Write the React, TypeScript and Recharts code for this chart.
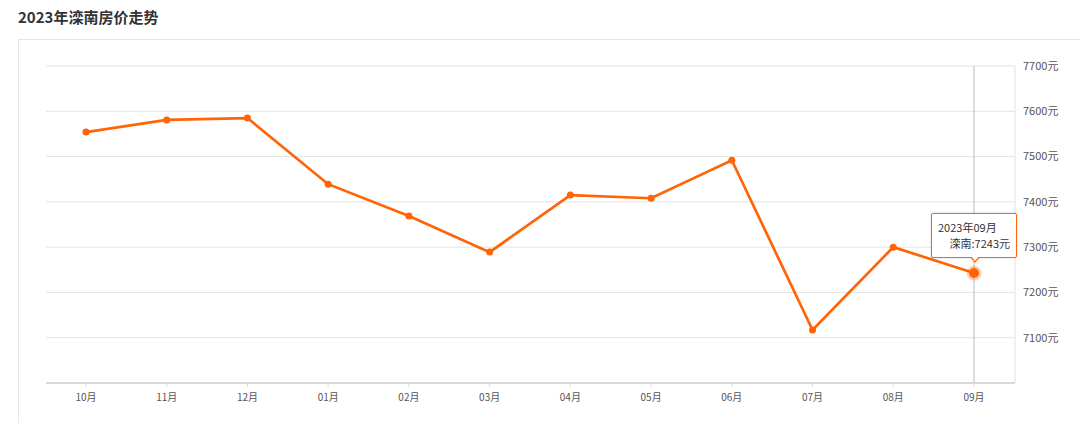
import React from 'react';
import { LineChart, Line, XAxis, YAxis, CartesianGrid, Tooltip } from 'recharts';

const months = ['10月', '11月', '12月', '01月', '02月', '03月', '04月', '05月', '06月', '07月', '08月', '09月'];
const fullLabels = ['2022年10月', '2022年11月', '2022年12月', '2023年01月', '2023年02月', '2023年03月', '2023年04月', '2023年05月', '2023年06月', '2023年07月', '2023年08月', '2023年09月'];
const prices = [7554, 7581, 7585, 7439, 7369, 7289, 7415, 7408, 7492, 7117, 7300, 7243];
const yTicks = [7000, 7100, 7200, 7300, 7400, 7500, 7600, 7700];

const data = months.map((m, i) => ({ month: m, full: fullLabels[i], price: prices[i] }));

const ORANGE = '#ff6408';
const FONT = '"Noto Sans CJK SC", "Noto Sans", sans-serif';

const TipBox = ({ active, payload }: any) => {
  if (!active || !payload || !payload.length) return null;
  const p = payload[0].payload;
  return (
    <div style={{ position: 'relative', width: 86, height: 45, background: '#fff', border: `1px solid ${ORANGE}`, borderRadius: 2, fontFamily: FONT, fontSize: 11, color: '#333', boxSizing: 'border-box', padding: '5px 6px 0 6px', boxShadow: '0 0 3px rgba(0,0,0,0.15)' }}>
      <div style={{ lineHeight: '16px' }}>{p.full}</div>
      <div style={{ lineHeight: '16px', textAlign: 'right' }}>滦南:{p.price}元</div>
      <div style={{ position: 'absolute', left: 38, bottom: -6, width: 0, height: 0, borderLeft: '5px solid transparent', borderRight: '5px solid transparent', borderTop: `6px solid ${ORANGE}` }} />
      <div style={{ position: 'absolute', left: 39, bottom: -4, width: 0, height: 0, borderLeft: '4px solid transparent', borderRight: '4px solid transparent', borderTop: '5px solid #fff' }} />
    </div>
  );
};

export default function App() {
  return (
    <div style={{ position: 'absolute', left: 0, top: 0, width: 1080, height: 423, background: '#fff', overflow: 'hidden' }}>
      <div style={{ position: 'absolute', left: 18, top: 6, fontFamily: FONT, fontSize: 15, fontWeight: 'bold', color: '#333' }}>
        2023年滦南房价走势
      </div>
      <div style={{ position: 'absolute', left: 18, top: 39, width: 1100, height: 400, borderLeft: '1px solid #e6e6e6', borderTop: '1px solid #e6e6e6' }} />
      <div style={{ position: 'absolute', left: 0, top: 0 }}>
        <LineChart width={1080} height={423} data={data} margin={{ top: 66, right: 0, bottom: 10, left: 46 }}>
          <CartesianGrid horizontal vertical={false} stroke="#e3e3e3" />
          <XAxis
            dataKey="month"
            padding={{ left: 40, right: 41 }}
            axisLine={{ stroke: '#d9d9d9', strokeWidth: 2 }}
            tickLine={{ stroke: '#d9d9d9' }}
            tickSize={4}
            height={30}
            tick={{ fill: '#555', fontSize: 10, fontFamily: FONT, dy: 5 }}
            interval={0}
          />
          <YAxis
            orientation="right"
            domain={[7000, 7700]}
            ticks={yTicks}
            width={65}
            axisLine={{ stroke: '#e3e3e3' }}
            tickLine={false}
            tickFormatter={(v: number) => (v === 7000 ? '' : `${v}元`)}
            tick={{ fill: '#555', fontSize: 11, fontFamily: FONT, textAnchor: 'start', dx: 0 }}
          />
          <Tooltip
            active
            defaultIndex={11}
            content={<TipBox />}
            position={{ x: 931, y: 213 }}
            cursor={{ stroke: '#bbb', strokeWidth: 1 }}
            isAnimationActive={false}
            wrapperStyle={{ transition: 'none' }}
          />
          <Line
            type="linear"
            dataKey="price"
            stroke={ORANGE}
            strokeWidth={2.7}
            dot={{ r: 3.5, fill: ORANGE, stroke: ORANGE, strokeWidth: 0 }}
            activeDot={{ r: 5, fill: ORANGE, stroke: 'rgba(255,100,8,0.3)', strokeWidth: 5 }}
            isAnimationActive={false}
          />
        </LineChart>
      </div>
    </div>
  );
}
